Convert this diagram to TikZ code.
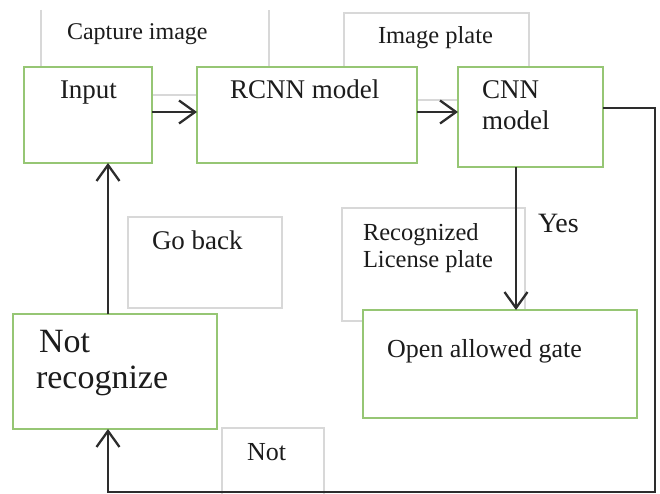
\documentclass[tikz,border=0pt]{standalone}
\usepackage{fontspec}
\setmainfont{Liberation Serif}
\usetikzlibrary{arrows.meta}
\definecolor{boxgreen}{RGB}{150,198,116}
\definecolor{lblgrey}{RGB}{216,216,216}
\definecolor{linegrey}{RGB}{45,45,45}
\definecolor{txtcol}{RGB}{28,28,28}
\begin{document}
\begin{tikzpicture}[x=1pt,y=-1pt,
  gbox/.style={draw=boxgreen, line width=2pt, fill=white, inner sep=0pt, outer sep=0pt, anchor=north west},
  lbox/.style={draw=lblgrey, line width=1.5pt, fill=white, inner sep=0pt, outer sep=0pt, anchor=north west},
  tlbl/.style={anchor=base west, inner sep=0pt, outer sep=0pt, text=txtcol, font=\fontsize{#1}{#1}\selectfont},
  tlbl/.default=26,
  conn/.style={draw=linegrey, line width=2.3pt, line join=miter},
  arr/.style={conn, -{Straight Barb[length=16pt,width=23pt]}}]
\useasboundingbox (0,0) rectangle (660,494);
\clip (0,0) rectangle (660,494);
% grey label boxes
\node[draw=none, fill=white, inner sep=0pt, outer sep=0pt, anchor=north west, minimum width=228pt, minimum height=85pt] (capbox) at (41,10) {};
\draw[draw=lblgrey, line width=1.5pt] (capbox.north west) -- (capbox.south west) -- (capbox.south east) -- (capbox.north east);
\node[lbox, minimum width=185pt, minimum height=87pt] (platebox) at (344,13) {};
\node[lbox, minimum width=154pt, minimum height=91pt] (gobox) at (128,217) {};
\node[lbox, minimum width=183pt, minimum height=113pt] (recbox) at (342,208) {};
\node[lbox, minimum width=102pt, minimum height=80pt] (notbox) at (222,428) {};
% green process boxes
\node[gbox, minimum width=128pt, minimum height=96pt] (inp) at (24,67) {};
\node[gbox, minimum width=220pt, minimum height=96pt] (rcnn) at (197,67) {};
\node[gbox, minimum width=145pt, minimum height=100pt] (cnn) at (458,67) {};
\node[gbox, minimum width=204pt, minimum height=115pt] (nr) at (13,314) {};
\node[gbox, minimum width=274pt, minimum height=108pt] (open) at (363,310) {};
% helper coordinates
\coordinate (ya) at (0,112);
\coordinate (yb) at (0,108);
\coordinate (xa) at (108,0);
\coordinate (xb) at (516,0);
\coordinate (loopcorner) at (655,492);
% connectors
\draw[arr] (inp.east |- ya) -- (rcnn.west |- ya);
\draw[arr] (rcnn.east |- ya) -- (cnn.west |- ya);
\draw[arr] (cnn.south -| xb) -- (open.north -| xb);
\draw[arr] (nr.north -| xa) -- (inp.south -| xa);
\draw[arr] (cnn.east |- yb) -| (loopcorner) -| (nr.south -| xa);
% texts
\node[tlbl=24] (tcap) at (67,40) {Capture image};
\node[tlbl=24.5] (tplate) at (378,44) {Image plate};
\node[tlbl=27] (tinp) at (60,99) {Input};
\node[tlbl=27] (trcnn) at (230,99) {RCNN model};
\node[tlbl=27] (tcnn1) at (482,99) {CNN};
\node[tlbl=27] (tcnn2) at (482,130) {model};
\node[tlbl=27] (tgo) at (152,249) {Go back};
\node[tlbl=24.5] (trec1) at (363,240) {Recognized};
\node[tlbl=24.5] (trec2) at (363,267) {License plate};
\node[tlbl=28] (tyes) at (538,232) {Yes};
\node[tlbl=34] (tnr1) at (39,352) {Not};
\node[tlbl=34] (tnr2) at (36,388) {recognize};
\node[tlbl=26] (topen) at (387,357) {Open allowed gate};
\node[tlbl=26] (tnot) at (247,460) {Not};
\end{tikzpicture}
\end{document}
